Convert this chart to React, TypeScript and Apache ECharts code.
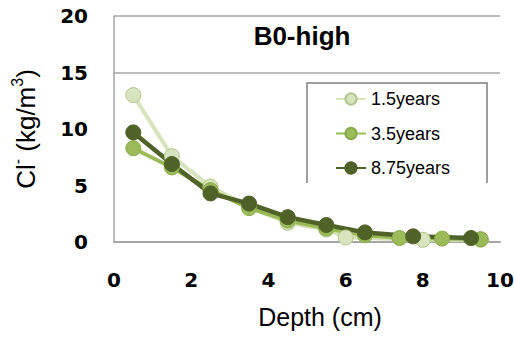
import React, { useEffect, useRef } from "react";
import * as echarts from "echarts";

const seriesNames = ["1.5years", "3.5years", "8.75years"];
const depth15 = [0.5, 1.5, 2.5, 3.5, 4.5, 5.5, 6.0, 8.0, 9.5];
const cl15 = [13.0, 7.6, 4.9, 3.1, 1.7, 1.1, 0.4, 0.2, 0.2];
const depth35 = [0.5, 1.5, 2.5, 3.5, 4.5, 5.5, 6.5, 7.4, 8.5, 9.5];
const cl35 = [8.3, 6.6, 4.6, 3.0, 1.9, 1.2, 0.6, 0.35, 0.3, 0.25];
const depth875 = [0.5, 1.5, 2.5, 3.5, 4.5, 5.5, 6.5, 7.75, 9.25];
const cl875 = [9.7, 6.9, 4.3, 3.4, 2.2, 1.5, 0.85, 0.5, 0.35];
const gridValues = [15, 20];

const pairs = (xs: number[], ys: number[]) => xs.map((x, i) => [x, ys[i]]);

export default function App() {
  const ref = useRef<HTMLDivElement>(null);
  useEffect(() => {
    if (!ref.current) return;
    const chart = echarts.init(ref.current, undefined, { renderer: "svg" });
    const tickFont = {
      fontFamily: "DejaVu Sans",
      fontWeight: "bold" as const,
      fontSize: 20,
      color: "#000",
    };
    const mk = (name: string, data: number[][], line: string, fill: string, border: string, width: number) => ({
      name,
      type: "line",
      data,
      symbol: "circle",
      symbolSize: 15,
      lineStyle: { color: line, width },
      itemStyle: { color: fill, borderColor: border, borderWidth: 1 },
      z: 3,
    });
    chart.setOption({
      animation: false,
      backgroundColor: "#fff",
      grid: { left: 114, right: 14, top: 16, bottom: 98, outerBoundsMode: "none", containLabel: false },
      title: {
        text: "B0-high",
        left: 302,
        top: 23,
        padding: 0,
        textAlign: "center",
        textStyle: { fontFamily: "Liberation Sans", fontWeight: "bold", fontSize: 26, color: "#000" },
      },
      legend: {
        orient: "vertical",
        left: 335,
        top: 90,
        padding: 0,
        itemWidth: 30,
        itemHeight: 14,
        itemGap: 16.5,
        data: seriesNames,
        textStyle: { fontFamily: "Liberation Sans", fontSize: 18, color: "#000" },
      },
      xAxis: {
        type: "value",
        min: 0,
        max: 10,
        interval: 2,
        name: "Depth (cm)",
        nameLocation: "middle",
        nameGap: 62,
        nameTextStyle: { fontFamily: "Liberation Sans", fontSize: 25, color: "#000", padding: [0, 0, 0, 26] },
        axisLine: { show: true, lineStyle: { color: "#a6a6a6", width: 2 } },
        axisTick: { show: false },
        splitLine: { show: false },
        axisLabel: { ...tickFont, margin: 28 },
      },
      yAxis: {
        type: "value",
        min: 0,
        max: 20,
        interval: 5,
        name: "{a|Cl}{s|-}{a| (kg/m}{s|3}{a|)}",
        nameLocation: "middle",
        nameGap: 75,
        nameTextStyle: {
          rich: {
            a: { fontFamily: "Liberation Sans", fontSize: 26, color: "#000", lineHeight: 30, verticalAlign: "bottom" },
            s: { fontFamily: "Liberation Sans", fontSize: 16, color: "#000", lineHeight: 16, verticalAlign: "top" },
          },
        },
        axisLine: { show: true, lineStyle: { color: "#a6a6a6", width: 1.5 } },
        axisTick: { show: false },
        splitLine: { show: false },
        axisLabel: { ...tickFont, margin: 26 },
      },
      graphic: [
        {
          type: "polyline",
          shape: { points: [[307, 183], [307, 83], [487, 83], [487, 183]] },
          style: { stroke: "#7f7f7f", lineWidth: 1.5, fill: "none" },
          z: 1,
        },
      ],
      series: [
        {
          ...mk(seriesNames[0], pairs(depth15, cl15), "#d7e4bd", "#d7e4bd", "#b3c68e", 4),
          markLine: {
            silent: true,
            symbol: "none",
            label: { show: false },
            lineStyle: { color: "#a6a6a6", width: 1.5, type: "solid" },
            data: gridValues.map((v) => ({ yAxis: v })),
          },
        },
        mk(seriesNames[1], pairs(depth35, cl35), "#9bbb59", "#9bbb59", "#8aab4a", 4),
        mk(seriesNames[2], pairs(depth875, cl875), "#4f6228", "#4f6228", "#4f6228", 4.5),
      ],
    });
    return () => chart.dispose();
  }, []);
  return <div ref={ref} style={{ width: 514, height: 340, position: "absolute", left: 0, top: 0 }} />;
}
